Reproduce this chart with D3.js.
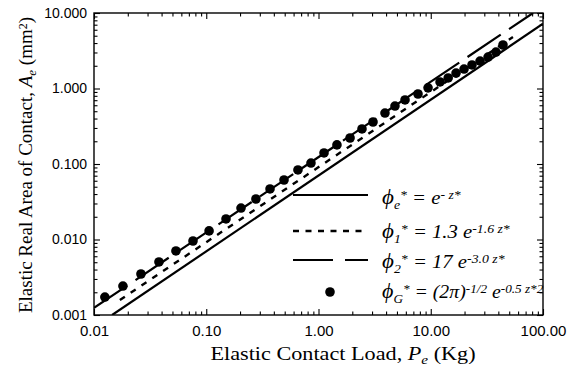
<!DOCTYPE html>
<html>
<head>
<meta charset="utf-8">
<script src="https://cdn.jsdelivr.net/npm/d3@7"></script>
<style>
  html, body { margin: 0; padding: 0; background: #fff; }
  svg { display: block; }
</style>
</head>
<body>
<svg id="chart" width="570" height="371"></svg>
<script>
// ---------- data ----------
const xTicks = [0.01, 0.1, 1, 10, 100];
const xTickLabels = ["0.01", "0.10", "1.00", "10.00", "100.00"];
const yTicks = [0.001, 0.01, 0.1, 1, 10];
const yTickLabels = ["0.001", "0.010", "0.100", "1.000", "10.000"];

// Gaussian (phi_G) points: load P_e (Kg), area A_e (mm^2)
const loadG = [0.0125, 0.0181, 0.0262, 0.0379, 0.0537, 0.0762, 0.106, 0.150,
  0.204, 0.277, 0.370, 0.493, 0.656, 0.857, 1.12, 1.46, 1.91, 2.44, 3.06,
  3.91, 4.80, 5.90, 7.70, 9.46, 12.1, 14.3, 16.8, 19.8, 23.3, 27.5, 32.4, 38.1, 44.0];
const areaG = [0.00173, 0.00242, 0.00349, 0.00504, 0.00705, 0.00955, 0.0130, 0.0187,
  0.0261, 0.0344, 0.0467, 0.0614, 0.0834, 0.103, 0.140, 0.179, 0.221, 0.291, 0.360,
  0.473, 0.586, 0.705, 0.846, 1.02, 1.22, 1.38, 1.60, 1.81, 2.05, 2.31, 2.61, 3.04, 3.77];

// straight (log-log) model lines, end points
const loadE = [0.0145, 100];   const areaE = [0.001, 7.2];     // phi_e
const load1 = [0.017, 54];     const area1 = [0.00158, 4.8];   // phi_1
const load2 = [0.01, 81.5];    const area2 = [0.00124, 10];    // phi_2

// ---------- layout ----------
const svg = d3.select("#chart");
const L = 94, R = 543, T = 13, B = 315;
const x = d3.scaleLog().domain([0.01, 100]).range([L, R]);
const y = d3.scaleLog().domain([0.001, 10]).range([B, T]);

const minorX = [], minorY = [];
[0.01, 0.1, 1, 10].forEach(d => { for (let k = 2; k <= 9; k++) minorX.push(d * k); });
[0.001, 0.01, 0.1, 1].forEach(d => { for (let k = 2; k <= 9; k++) minorY.push(d * k); });

svg.append("defs").append("clipPath").attr("id", "clip")
  .append("rect").attr("x", L).attr("y", T).attr("width", R - L).attr("height", B - T);

function styleAxis(g) {
  g.select(".domain").remove();
  g.selectAll(".tick line").attr("stroke", "#000").attr("stroke-width", 1.1);
}

// bottom axis
svg.append("g").attr("transform", `translate(0,${B})`)
  .call(d3.axisBottom(x).tickValues(xTicks).tickFormat((d, i) => xTickLabels[i])
    .tickSizeInner(-6).tickSizeOuter(0).tickPadding(10))
  .call(styleAxis)
  .call(g => g.selectAll("text").attr("font-family", "Liberation Sans, Arial, sans-serif")
    .attr("font-size", 15).attr("fill", "#000"));
svg.append("g").attr("transform", `translate(0,${B})`)
  .call(d3.axisBottom(x).tickValues(minorX).tickFormat("").tickSizeInner(-3.5).tickSizeOuter(0))
  .call(styleAxis);
// top axis
svg.append("g").attr("transform", `translate(0,${T})`)
  .call(d3.axisTop(x).tickValues(xTicks).tickFormat("").tickSizeInner(-6).tickSizeOuter(0))
  .call(styleAxis);
svg.append("g").attr("transform", `translate(0,${T})`)
  .call(d3.axisTop(x).tickValues(minorX).tickFormat("").tickSizeInner(-3.5).tickSizeOuter(0))
  .call(styleAxis);
// left axis
svg.append("g").attr("transform", `translate(${L},0)`)
  .call(d3.axisLeft(y).tickValues(yTicks).tickFormat((d, i) => yTickLabels[i])
    .tickSizeInner(-6).tickSizeOuter(0).tickPadding(7))
  .call(styleAxis)
  .call(g => g.selectAll("text").attr("font-family", "Liberation Sans, Arial, sans-serif")
    .attr("font-size", 14).attr("fill", "#000"));
svg.append("g").attr("transform", `translate(${L},0)`)
  .call(d3.axisLeft(y).tickValues(minorY).tickFormat("").tickSizeInner(-3.5).tickSizeOuter(0))
  .call(styleAxis);
// right axis
svg.append("g").attr("transform", `translate(${R},0)`)
  .call(d3.axisRight(y).tickValues(yTicks).tickFormat("").tickSizeInner(-6).tickSizeOuter(0))
  .call(styleAxis);
svg.append("g").attr("transform", `translate(${R},0)`)
  .call(d3.axisRight(y).tickValues(minorY).tickFormat("").tickSizeInner(-3.5).tickSizeOuter(0))
  .call(styleAxis);

// frame
svg.append("rect").attr("x", L).attr("y", T).attr("width", R - L).attr("height", B - T)
  .attr("fill", "none").attr("stroke", "#000").attr("stroke-width", 1.4);

// ---------- lines ----------
const line = d3.line().x(d => x(d[0])).y(d => y(d[1]));
const plot = svg.append("g").attr("clip-path", "url(#clip)");
plot.append("path").datum(d3.zip(loadE, areaE)).attr("d", line)
  .attr("fill", "none").attr("stroke", "#000").attr("stroke-width", 2.2);
plot.append("path").datum(d3.zip(load1, area1)).attr("d", line)
  .attr("fill", "none").attr("stroke", "#000").attr("stroke-width", 2.4)
  .attr("stroke-dasharray", "6,7");
plot.append("path").datum(d3.zip(load2, area2)).attr("d", line)
  .attr("fill", "none").attr("stroke", "#000").attr("stroke-width", 2.2)
  .attr("stroke-dasharray", "40,10");
plot.selectAll("circle").data(d3.zip(loadG, areaG)).join("circle")
  .attr("cx", d => x(d[0])).attr("cy", d => y(d[1])).attr("r", 4.8).attr("fill", "#000");

// ---------- legend ----------
const lg = svg.append("g");
lg.append("line").attr("x1", 293).attr("x2", 368).attr("y1", 195).attr("y2", 195)
  .attr("stroke", "#000").attr("stroke-width", 2.2);
lg.append("line").attr("x1", 293).attr("x2", 366).attr("y1", 231).attr("y2", 231)
  .attr("stroke", "#000").attr("stroke-width", 2.4).attr("stroke-dasharray", "6,6.5");
lg.append("line").attr("x1", 293).attr("x2", 368).attr("y1", 260).attr("y2", 260)
  .attr("stroke", "#000").attr("stroke-width", 2.2).attr("stroke-dasharray", "40,12");
lg.append("circle").attr("cx", 330).attr("cy", 292).attr("r", 4.8).attr("fill", "#000");

const serif = "Liberation Serif, Times New Roman, serif";
function legendText(yb, sx, parts) {
  const t = lg.append("g").attr("transform", `translate(382,${yb}) scale(${sx},1)`)
    .append("text").attr("font-family", serif).attr("font-size", 18)
    .attr("font-style", "italic").attr("fill", "#000");
  parts.forEach(p => {
    const s = t.append("tspan").text(p.t);
    if (p.phi) s.attr("font-size", 20);
    if (p.sub) s.attr("font-size", 12).attr("baseline-shift", "-35%");
    if (p.sup) s.attr("font-size", 12).attr("baseline-shift", "40%");
  });
}
legendText(204, 1.15, [{t: "\u03d5", phi: 1}, {t: "e", sub: 1}, {t: "*", sup: 1}, {t: " = e"}, {t: "- z*", sup: 1}]);
legendText(238, 1.15, [{t: "\u03d5", phi: 1}, {t: "1", sub: 1}, {t: "*", sup: 1}, {t: " = 1.3 e"}, {t: "-1.6 z*", sup: 1}]);
legendText(268, 1.15, [{t: "\u03d5", phi: 1}, {t: "2", sub: 1}, {t: "*", sup: 1}, {t: " = 17 e"}, {t: "-3.0 z*", sup: 1}]);
legendText(298, 1.1, [{t: "\u03d5", phi: 1}, {t: "G", sub: 1}, {t: "*", sup: 1}, {t: " = (2\u03c0)"}, {t: "-1/2", sup: 1}, {t: " e"}, {t: "-0.5 z*2", sup: 1}]);

// ---------- axis titles ----------
const xt = svg.append("g").attr("transform", "translate(343,360) scale(1.17,1)")
  .append("text").attr("text-anchor", "middle").attr("font-family", serif)
  .attr("font-size", 19).attr("fill", "#000");
xt.append("tspan").text("Elastic Contact Load, ");
xt.append("tspan").text("P").attr("font-style", "italic");
xt.append("tspan").text("e").attr("font-style", "italic").attr("font-size", 13).attr("baseline-shift", "-30%");
xt.append("tspan").text(" (Kg)");

const yt = svg.append("text").attr("transform", "translate(32,165) rotate(-90)")
  .attr("text-anchor", "middle").attr("font-family", serif)
  .attr("font-size", 19).attr("fill", "#000");
yt.append("tspan").text("Elastic Real Area of Contact, ");
yt.append("tspan").text("A").attr("font-style", "italic");
yt.append("tspan").text("e").attr("font-style", "italic").attr("font-size", 13).attr("baseline-shift", "-30%");
yt.append("tspan").text(" (mm");
yt.append("tspan").text("2").attr("font-size", 12).attr("baseline-shift", "40%");
yt.append("tspan").text(")");
</script>
</body>
</html>
